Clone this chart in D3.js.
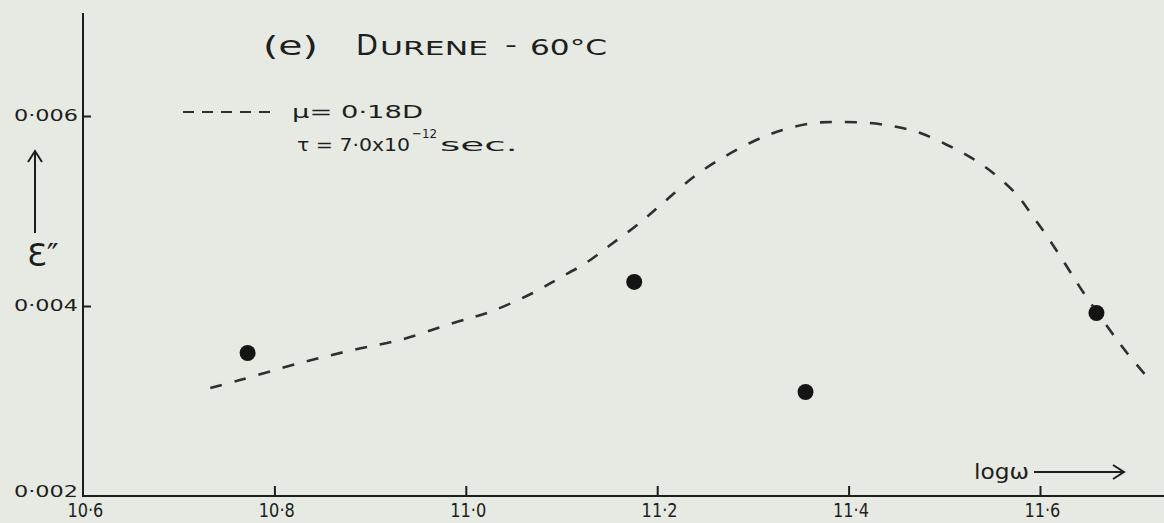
<!DOCTYPE html>
<html>
<head>
<meta charset="utf-8">
<script src="https://cdn.jsdelivr.net/npm/d3@7"></script>
<style>
  body { margin: 0; background: #e6eae2; }
  svg { display: block; font-family: "DejaVu Sans", sans-serif; }
  .axis path.domain { display: none; }
  .axis line { stroke: #1e1e1e; stroke-width: 2; }
  .axis text { fill: #1e1e1e; }
</style>
</head>
<body>
<div id="chart"></div>
<script>
// Tick values along each axis.
var xTicks = [10.6, 10.8, 11.0, 11.2, 11.4, 11.6];
var yTicks = [0.002, 0.004, 0.006];

// Measured points: log w and eps''.
var logW = [10.772, 11.176, 11.355, 11.659];
var epsMeasured = [0.003505, 0.004253, 0.003095, 0.003926];

// Calculated curve (mu = 0.18D, tau = 7.0e-12 sec).
var curveLogW = [10.733, 10.764, 10.827, 10.882, 10.931, 10.987, 11.025, 11.070,
  11.098, 11.127, 11.151, 11.179, 11.206, 11.245, 11.297, 11.331, 11.363, 11.391,
  11.422, 11.451, 11.475, 11.503, 11.527, 11.551, 11.576, 11.593, 11.610, 11.629,
  11.645, 11.673, 11.691, 11.713];
var curveEps = [0.003137, 0.003221, 0.003400, 0.003537, 0.003642, 0.003821, 0.003937, 0.004137,
  0.004295, 0.004463, 0.004642, 0.004853, 0.005084, 0.005411, 0.005716, 0.005853, 0.005926, 0.005937,
  0.005926, 0.005884, 0.005821, 0.005695, 0.005568, 0.005400, 0.005168, 0.004937, 0.004695, 0.004400,
  0.004147, 0.003747, 0.003505, 0.003242];

var width = 1164;
var height = 523;
var ink = "#1e1e1e";

// Scales, pinned to where the hand-drawn ticks sit.
var xScale = d3.scaleLinear().domain([10.6, 11.6]).range([83, 1040]);
var yScale = d3.scaleLinear().domain([0.002, 0.006]).range([496, 116]);

function dotFmt(s) { return s.replace(".", "\u00b7"); }

var svg = d3.select("#chart").append("svg")
  .attr("width", width)
  .attr("height", height);

svg.append("rect")
  .attr("width", width)
  .attr("height", height)
  .attr("fill", "#e6eae2");

// Axis lines drawn by hand so they run past the last tick.
svg.append("line")
  .attr("x1", xScale(10.6) - 1).attr("x2", width)
  .attr("y1", yScale(0.002)).attr("y2", yScale(0.002))
  .attr("stroke", ink).attr("stroke-width", 2);

svg.append("line")
  .attr("x1", xScale(10.6)).attr("x2", xScale(10.6))
  .attr("y1", 13).attr("y2", yScale(0.002))
  .attr("stroke", ink).attr("stroke-width", 2);

// x-axis, ticks pointing up.
var xAxis = d3.axisBottom(xScale)
  .tickValues(xTicks)
  .tickSizeInner(-10)
  .tickSizeOuter(0)
  .tickPadding(8)
  .tickFormat(function(d) { return dotFmt(d3.format(".1f")(d)); });

var gx = svg.append("g")
  .attr("class", "x axis")
  .attr("transform", "translate(0," + yScale(0.002) + ")")
  .call(xAxis)
  .attr("font-size", 19)
  .attr("font-family", "DejaVu Sans");

gx.selectAll("text")
  .attr("dx", "0.1em")
  .attr("textLength", 36)
  .attr("lengthAdjust", "spacingAndGlyphs");

gx.selectAll(".tick")
  .filter(function(d) { return d === 10.6; })
  .select("line").remove();

// y-axis, ticks pointing right.
var yAxis = d3.axisLeft(yScale)
  .tickValues(yTicks)
  .tickSizeInner(-8)
  .tickSizeOuter(0)
  .tickPadding(5)
  .tickFormat(function(d) { return dotFmt(d3.format(".3f")(d)); });

var gy = svg.append("g")
  .attr("class", "y axis")
  .attr("transform", "translate(" + xScale(10.6) + ",0)")
  .call(yAxis)
  .attr("font-size", 16)
  .attr("font-family", "DejaVu Sans");

gy.selectAll("text")
  .attr("dy", "0.3em")
  .attr("textLength", 64)
  .attr("lengthAdjust", "spacingAndGlyphs");

gy.selectAll(".tick")
  .filter(function(d) { return d === 0.002; })
  .select("text").attr("dy", "0.05em");

gy.selectAll(".tick")
  .filter(function(d) { return d === 0.002; })
  .select("line").remove();

// Dashed calculated curve.
var line = d3.line()
  .x(function(d) { return xScale(d[0]); })
  .y(function(d) { return yScale(d[1]); })
  .curve(d3.curveCatmullRom);

svg.append("path")
  .datum(curveLogW.map(function(v, i) { return [v, curveEps[i]]; }))
  .attr("d", line)
  .attr("fill", "none")
  .attr("stroke", "#2f2f2f")
  .attr("stroke-width", 2.6)
  .attr("stroke-dasharray", "12,13");

// Measured points.
svg.append("g")
  .selectAll("circle")
  .data(logW)
  .enter().append("circle")
  .attr("cx", function(d) { return xScale(d); })
  .attr("cy", function(d, i) { return yScale(epsMeasured[i]); })
  .attr("r", 8)
  .attr("fill", "#141414");

// Text pieces, stretched to follow the wide hand lettering.
function label(x, y, size, txt, len) {
  var t = svg.append("text")
    .attr("x", x)
    .attr("y", y)
    .attr("fill", ink)
    .style("font-size", size + "px")
    .text(txt);
  if (len) t.attr("textLength", len).attr("lengthAdjust", "spacingAndGlyphs");
  return t;
}

// Title.
label(263, 55, 27, "(e)", 55);
label(356, 55, 28, "D", 22);
label(380, 55, 19, "URENE", 108);
label(505, 52, 22, "-", 12);
label(530, 55, 21, "60\u00b0C", 77);

// Legend.
svg.append("line")
  .attr("x1", 183).attr("x2", 270)
  .attr("y1", 112).attr("y2", 112)
  .attr("stroke", "#2f2f2f")
  .attr("stroke-width", 2)
  .attr("stroke-dasharray", "11,8");

label(292, 118, 18, "\u03bc= 0\u00b718D", 131);
label(297, 151, 17, "\u03c4 = 7\u00b70x10", 113);
label(412, 138, 13, "\u221212", 25);
label(440, 151, 17, "sec.", 78);

// y-axis label with arrow.
svg.append("path")
  .attr("d", "M35,233V153M28,162L35,151L42,162")
  .attr("fill", "none")
  .attr("stroke", ink)
  .attr("stroke-width", 2);

label(27, 266, 32, "\u0190\u2033");

// x-axis label with arrow.
label(974, 479, 22, "log\u03c9", 55);

svg.append("path")
  .attr("d", "M1034,472H1123M1113,465L1124,472L1113,479")
  .attr("fill", "none")
  .attr("stroke", ink)
  .attr("stroke-width", 2);
</script>
</body>
</html>
